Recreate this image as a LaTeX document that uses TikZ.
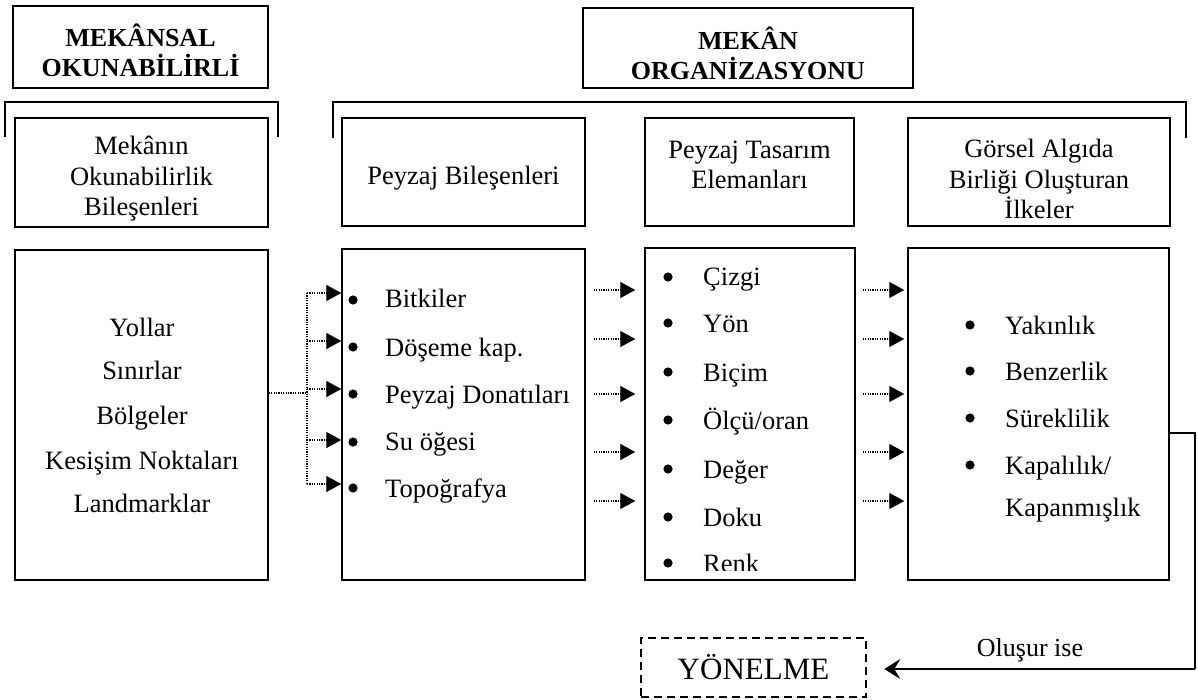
\documentclass[tikz,border=0pt]{standalone}
\usepackage{fontspec}
\setmainfont{Liberation Serif}
\usetikzlibrary{arrows.meta,calc}
\begin{document}
\begin{tikzpicture}[x=1pt,y=-1pt,
  box/.style={draw, line width=1.5pt, inner sep=0pt},
  brk/.style={line width=2.8pt},
  ttl/.style={font=\bfseries\fontsize{26}{30}\selectfont, align=center, inner sep=0pt},
  hdr/.style={font=\fontsize{26.5}{30.5}\selectfont, align=center, inner sep=0pt},
  liA/.style={font=\fontsize{26.5}{30}\selectfont, inner sep=0pt, anchor=base},
  liB/.style={font=\fontsize{26.5}{30}\selectfont, inner sep=0pt, anchor=base west},
  liC/.style={font=\fontsize{26.5}{30}\selectfont, inner sep=0pt, anchor=base west},
  dots/.style={line width=1.4pt, dash pattern=on 1.2pt off 1.2pt},
  dotarrow/.style={dots, -{Triangle[length=15pt,width=16pt]}},
  conn/.style={line width=1.4pt, -{Stealth[length=16pt,width=20pt,inset=6pt]}},
  yonbox/.style={draw, line width=2.6pt, dash pattern=on 8pt off 5pt, inner sep=0pt}
]
\useasboundingbox (0,0) rectangle (1198,700);

% ---- titles
\node[box, minimum width=255pt, minimum height=82pt] (tL) at (140.5,47) {};
\node[ttl] (tLtxt) at (140.5,50) {MEKÂNSAL\\OKUNABİLİRLİ};
\node[box, minimum width=330pt, minimum height=80pt] (tR) at (748,48) {};
\node[ttl] (tRtxt) at (748,53) {MEKÂN\\ORGANİZASYONU};

% ---- brackets
\draw[brk] (5,137) -- (5,102) -- (278,102) -- (278,137);
\draw[brk] (333,138) -- (333,102) -- (1186,102) -- (1186,138);

% ---- header boxes
\node[box, minimum width=253pt, minimum height=109pt] (hL) at (141.5,172.5) {};
\node[hdr] (hLtxt) at (141.5,179) {Mekânın\\Okunabilirlik\\Bileşenleri};
\node[box, minimum width=243pt, minimum height=108pt] (hP) at (463.5,172) {};
\node[hdr] (hPtxt) at (463.5,178) {Peyzaj Bileşenleri};
\node[box, minimum width=209pt, minimum height=108pt] (hT) at (749.5,172) {};
\node[hdr] (hTtxt) at (749.5,165) {Peyzaj Tasarım\\Elemanları};
\node[box, minimum width=262pt, minimum height=108pt] (hG) at (1039,172) {};
\node[hdr] (hGtxt) at (1039,179) {Görsel Algıda\\Birliği Oluşturan\\İlkeler};

% ---- lower boxes
\node[box, minimum width=253pt, minimum height=330pt] (lL) at (141.5,415) {};
\node[box, minimum width=243pt, minimum height=331pt] (lP) at (463.5,414.5) {};
\node[box, minimum width=210pt, minimum height=332pt] (lT) at (750,414) {};
\node[box, minimum width=261pt, minimum height=332pt] (lG) at (1038.5,414) {};

% left list
\node[liA] (a1) at (142,336) {Yollar};
\node[liA] (a2) at (142,379) {Sınırlar};
\node[liA] (a3) at (142,424) {Bölgeler};
\node[liA] (a4) at (142,469) {Kesişim Noktaları};
\node[liA] (a5) at (142,512) {Landmarklar};

% peyzaj list
\foreach \y in {300,347,394,442,488} \fill (353,\y) circle (4.6pt);
\node[liB] (b1) at (385,307) {Bitkiler};
\node[liB] (b2) at (385,356) {Döşeme kap.};
\node[liB] (b3) at (385,403) {Peyzaj Donatıları};
\node[liB] (b4) at (385,450) {Su öğesi};
\node[liB] (b5) at (385,497) {Topoğrafya};

% tasarim list
\foreach \y in {277,323,372,420,469,517,563} \fill (668,\y) circle (4.6pt);
\node[liC] (c1) at (703,286) {Çizgi};
\node[liC] (c2) at (703,332) {Yön};
\node[liC] (c3) at (703,381) {Biçim};
\node[liC] (c4) at (703,429) {Ölçü/oran};
\node[liC] (c5) at (703,478) {Değer};
\node[liC] (c6) at (703,526) {Doku};
\begin{scope}
  \clip (646,249) rectangle (854,570);
  \node[liC] (c7) at (703,572) {Renk};
\end{scope}

% ilkeler list
\foreach \y in {325,371,418,465} \fill (970,\y) circle (4.6pt);
\node[liC] (d1) at (1005,334) {Yakınlık};
\node[liC] (d2) at (1005,380) {Benzerlik};
\node[liC] (d3) at (1005,427) {Süreklilik};
\node[liC] (d4) at (1005,474) {Kapalılık/};
\node[liC] (d5) at (1005,516) {Kapanmışlık};

% ---- left feeder
\coordinate (jm) at (307,393);
\coordinate (jt) at (307,293);
\coordinate (jb) at (307,484);
\draw[dots] (lL.east |- jm) -- (jm);
\draw[dots] (jt) -- (jb);
\foreach \y in {293,341,389,440,484}
  \draw[dotarrow] (307,\y) -- (lP.west |- 0,\y);

% ---- middle arrows
\foreach \y in {290,339,394,452,501}
  \draw[dotarrow] ($(lP.east |- 0,\y)+(8,0)$) -- ($(lT.west |- 0,\y)+(-9,0)$);
\foreach \y in {290,339,394,452,501}
  \draw[dotarrow] ($(lT.east |- 0,\y)+(7,0)$) -- ($(lG.west |- 0,\y)+(-3,0)$);

% ---- yonelme
\node[yonbox, minimum width=225pt, minimum height=59pt, font=\fontsize{31}{35}\selectfont] (yon) at (753.5,667.5) {YÖNELME};
\coordinate (cR) at (1195,433);
\coordinate (cB) at (1195,669);
\coordinate (tipY) at ($(yon.east |- cB)+(17,0)$);
\draw[line width=1.4pt] (lG.east |- cR) -- (cR) -- (cB);
\draw[conn] (cB) -- (tipY);
\node[font=\fontsize{26}{30}\selectfont, inner sep=0pt] (olu) at (1030,650) {Oluşur ise};
\end{tikzpicture}
\end{document}
